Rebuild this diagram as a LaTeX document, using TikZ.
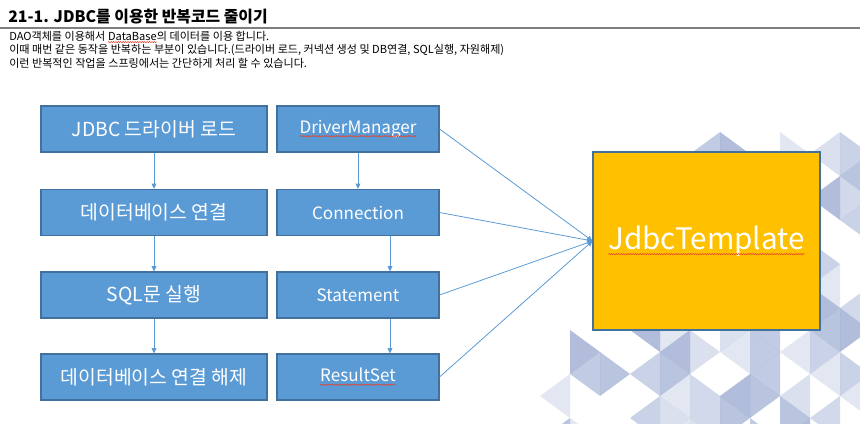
\documentclass[tikz,border=0pt]{standalone}
\usepackage{fontspec}
\setmainfont{Noto Sans CJK KR}
\usetikzlibrary{arrows.meta,decorations.pathmorphing}
\definecolor{boxblue}{HTML}{5B9BD5}
\definecolor{boxedge}{HTML}{41719C}
\definecolor{gold}{HTML}{FFC000}
\definecolor{tri}{RGB}{70,100,170}
\definecolor{squig}{HTML}{E8402A}
\definecolor{rulegray}{HTML}{7F7F7F}
\newcommand\sqg[2][black]{\tikz[baseline=(sq.base)]{\node[inner sep=0pt,outer sep=0pt,minimum width=0pt,minimum height=0pt,draw=none,fill=none,text=#1] (sq) {#2};\draw[squig,line width=0.4pt,decorate,decoration={snake,amplitude=0.45pt,segment length=1.8pt}] ([yshift=-0.16em]sq.base west) -- ([yshift=-0.16em]sq.base east);}}
\tikzset{
  basebox/.style={draw=boxedge,fill=boxblue,line width=0.8pt,text=white,minimum height=34.5pt,inner sep=0pt},
  lbox/.style={basebox,minimum width=169.5pt,font=\fontsize{14.5}{16}\selectfont},
  rbox/.style={basebox,minimum width=121.5pt,font=\fontsize{12.8}{14}\selectfont},
  conn/.style={draw=boxblue,line width=0.6pt,-{Triangle[length=4pt,width=3.6pt]}},
  bodytext/.style={anchor=west,inner sep=0pt,font=\fontsize{8.3}{10}\selectfont}
}
\begin{document}
\begin{tikzpicture}[x=0.75pt,y=-0.75pt]
\useasboundingbox (0,0) rectangle (860,424);
% background triangles
\pgfmathsetseed{11}
\foreach \i in {17,...,28}{
  \foreach \j in {2,...,10}{
    \pgfmathtruncatemacro\off{mod(\i,2)*22}
    \pgfmathsetmacro\ya{44*\j+\off}
    \pgfmathsetmacro\cx{30*\i+10}
    \pgfmathsetmacro\cy{\ya+22}
    \pgfmathtruncatemacro\inside{(((\cx-548) > (415-\cy)*0.5) && (\cy > 150)) ? 1 : 0}
    \pgfmathrandominteger{\rr}{0}{9}
    \ifnum\inside=1 \ifnum\rr>2
      \pgfmathsetmacro\op{0.02+0.045*\rr}
      \fill[tri,opacity=\op] (30*\i,\ya) -- (30*\i,\ya+44) -- (30*\i+30,\ya+22) -- cycle;
    \fi\fi
    \pgfmathsetmacro\yb{44*\j+22-\off}
    \pgfmathsetmacro\cxb{30*\i+20}
    \pgfmathsetmacro\cyb{\yb+22}
    \pgfmathtruncatemacro\insideb{(((\cxb-548) > (415-\cyb)*0.5) && (\cyb > 150)) ? 1 : 0}
    \pgfmathrandominteger{\rb}{0}{9}
    \ifnum\insideb=1 \ifnum\rb>2
      \pgfmathsetmacro\opb{0.02+0.045*\rb}
      \fill[tri,opacity=\opb] (30*\i+30,\yb) -- (30*\i+30,\yb+44) -- (30*\i,\yb+22) -- cycle;
    \fi\fi
  }
}
% title
\node[anchor=west,inner sep=0pt,font=\bfseries\fontsize{11.9}{14}\selectfont] (title) at (8,17) {21-1. JDBC를 이용한 반복코드 줄이기};
\draw[rulegray,line width=1pt] (0,28) -- (860,28);
\node[bodytext] (b1) at (9,37) {DAO객체를 이용해서 \sqg{DataBase}의 데이터를 이용 합니다.};
\node[bodytext] (b2) at (9,50) {이때 매번 같은 동작을 반복하는 부분이 있습니다.(드라이버 로드, 커넥션 생성 및 DB연결, SQL실행, 자원해제)};
\node[bodytext] (b3) at (9,63) {이런 반복적인 작업을 스프링에서는 간단하게 처리 할 수 있습니다.};
% boxes
\node[lbox] (l1) at (154,129) {JDBC 드라이버 로드};
\node[lbox] (l2) at (154,212.5) {데이터베이스 연결};
\node[lbox] (l3) at (154,295) {SQL문 실행};
\node[lbox] (l4) at (154,377) {데이터베이스 연결 해제};
\node[rbox] (r1) at (358,129) {\sqg[white]{DriverManager}};
\node[rbox] (r2) at (358,212.5) {Connection};
\node[rbox] (r3) at (358,295) {Statement};
\node[rbox] (r4) at (358,377) {\sqg[white]{ResultSet}};
\node[draw=boxedge,fill=gold,line width=0.8pt,minimum width=170.25pt,minimum height=133.5pt,inner sep=0pt,text=white,font=\fontsize{22.2}{26}\selectfont] (j) at (706.5,241) {\sqg[white]{JdbcTemplate}};
% connectors
\draw[conn] (l1) -- (l2);
\draw[conn] (l2) -- (l3);
\draw[conn] (l3) -- (l4);
\draw[conn] (r1) -- (r2);
\draw[conn] ([xshift=24pt]r2.south) -- ([xshift=24pt]r3.north);
\draw[conn] ([xshift=24pt]r3.south) -- ([xshift=24pt]r4.north);
\draw[conn] (r1.east) -- (j.west);
\draw[conn] (r2.east) -- (j.west);
\draw[conn] (r3.east) -- (j.west);
\draw[conn] (r4.east) -- (j.west);
\end{tikzpicture}
\end{document}
